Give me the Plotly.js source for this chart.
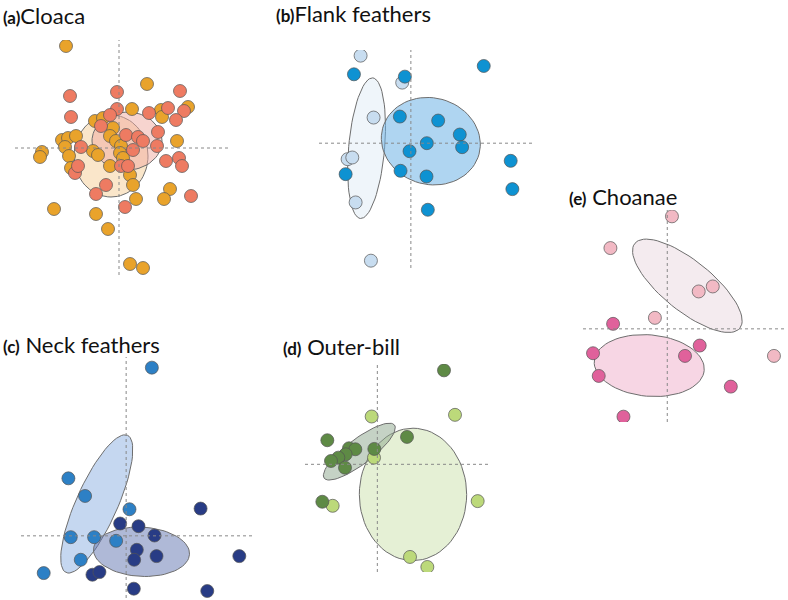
<!DOCTYPE html>
<html>
<head>
<script src="https://cdn.plot.ly/plotly-3.0.1.min.js"></script>
<style>body{margin:0}</style>
</head>
<body>
<div id="plot" style="width:788px;height:600px"></div>
<script>
// (a) Cloaca
var cloacaOrangeX = [-53,28,13,42,43,69,58,-57,-51,-43,-54,-77,-79,-50,-48,-24,-16,-6,-9,-3,2,1,4,-26,-21,-9,11,14,51,45,17,-65,-23,-11,11,24];
var cloacaOrangeY = [102,64,39,38,31,41,7,8,10,12,1,-4,-9,-8,-20,27,30,20,12,7,2,-5,-10,-3,-7,-18,-27,-37,-41,-51,-51,-61,-66,-81,-116,-120];
var cloacaRedX = [-49,-2,61,-48,-2,30,49,65,57,39,38,47,60,63,72,6,-23,-13,-44,-41,-38,7,19,24,14,2,9,-18,-9];
var cloacaRedY = [52,56,57,31,39,35,40,37,28,16,2,-13,-10,-18,-48,-59,-46,-37,-25,-18,1,13,11,7,-2,-18,-18,22,33];
// (b) Flank feathers
var flankLightX = [-151,-26,-112,-190,-176,-166,-120];
var flankLightY = [263,182,77,-48,-43,-178,-353];
var flankDarkX = [-171,-18,219,-33,82,147,48,154,-4,300,-31,47,-196,305,51];
var flankDarkY = [207,200,232,80,68,26,0,-12,-24,-53,-83,-100,-93,-138,-200];
// (c) Neck feathers
var neckLightX = [77,-173,-123,10,-166,-96,-30,-136,-247];
var neckLightY = [506,173,120,80,-4,-4,-15,-72,-112];
var neckDarkX = [223,-18,37,85,32,24,91,339,-101,-80,23,243];
var neckDarkY = [82,37,29,1,-42,-72,-61,-61,-117,-109,-159,-166];
// (d) Outer-bill
var billLightX = [-17,233,-10,301,-134,98,150];
var billLightY = [143,148,20,-110,-124,-277,-307];
var billDarkX = [200,-150,89,-85,-66,-9,-95,-117,-139,-97,-165];
var billDarkY = [281,72,82,48,45,46,30,20,10,-10,-112];
// (e) Choanae
var choLightX = [14,-170,136,94,-37,319];
var choLightY = [337,242,127,112,33,-81];
var choDarkX = [-162,-222,97,53,-205,190,-131];
var choDarkY = [15,-73,-50,-81,-141,-173,-263];

// ellipses: [cx, cy, semiA, semiB, angleDeg]
var ellipses = {
  a: [[-8,-8,37,41,0],[8,7,35,29,0]],
  b: [[-133,-15,54,212,-5],[60,6,150,130,-15]],
  c: [[-88,96,226,62,66],[46,-48,144,74,-3]],
  d: [[107,-90,161,198,0],[-54,38,132,38,37]],
  e: [[60,129,202,75,-39],[-54,-110,165,92,-5]]
};

var panels = [
  {k:'a', ax:'', px:[15,228], py:[40,275], rx:[-104,109], ry:[-127,108],
   sets:[[cloacaOrangeX,cloacaOrangeY,'#e9a32b'],[cloacaRedX,cloacaRedY,'#ee7b62']],
   fills:['rgba(246,205,150,0.5)','rgba(240,170,160,0.5)']},
  {k:'b', ax:'2', px:[319,533], py:[50,268], rx:[-276,367], ry:[-375,280],
   sets:[[flankLightX,flankLightY,'#c8ddf0'],[flankDarkX,flankDarkY,'#0e92d2']],
   fills:['rgba(228,238,247,0.6)','rgba(110,178,230,0.55)']},
  {k:'c', ax:'3', px:[21,252], py:[357,598], rx:[-315,377], ry:[-187,538],
   sets:[[neckLightX,neckLightY,'#2d80c5'],[neckDarkX,neckDarkY,'#283c85']],
   fills:['rgba(140,175,225,0.5)','rgba(95,115,175,0.5)']},
  {k:'d', ax:'4', px:[305,490], py:[364,572], rx:[-217,338], ry:[-322,300],
   sets:[[billLightX,billLightY,'#bcd97a'],[billDarkX,billDarkY,'#5e8a45']],
   fills:['rgba(212,230,185,0.6)','rgba(140,165,140,0.5)']},
  {k:'e', ax:'5', px:[583,787], py:[210,422], rx:[-252,358], ry:[-279,356],
   sets:[[choLightX,choLightY,'#f2b9c4'],[choDarkX,choDarkY,'#e0619b']],
   fills:['rgba(236,222,228,0.6)','rgba(241,180,205,0.55)']}
];

var W = 788, H = 600;
var traces = [], shapes = [];
var layout = {width:W, height:H, margin:{l:0,r:0,t:0,b:0}, showlegend:false,
  paper_bgcolor:'white', plot_bgcolor:'rgba(0,0,0,0)', font:{family:'Lato'}};

panels.forEach(function(p){
  var xa = 'x'+p.ax, ya = 'y'+p.ax;
  layout['xaxis'+p.ax] = {domain:[p.px[0]/W, p.px[1]/W], range:p.rx, visible:false, anchor:ya};
  layout['yaxis'+p.ax] = {domain:[1-p.py[1]/H, 1-p.py[0]/H], range:p.ry, visible:false, anchor:xa};
  ellipses[p.k].forEach(function(e, i){
    var ex = [], ey = [], t = e[4]*Math.PI/180;
    for (var j = 0; j <= 72; j++) {
      var a = j/72*2*Math.PI, u = e[2]*Math.cos(a), v = e[3]*Math.sin(a);
      ex.push(e[0] + u*Math.cos(t) - v*Math.sin(t));
      ey.push(e[1] + u*Math.sin(t) + v*Math.cos(t));
    }
    traces.push({x:ex, y:ey, xaxis:xa, yaxis:ya, mode:'lines', fill:'toself',
      fillcolor:p.fills[i], line:{color:'#6e6e6e', width:1}, hoverinfo:'skip'});
  });
  shapes.push({type:'line', xref:xa+' domain', yref:ya, x0:0, x1:1, y0:0, y1:0, line:{color:'#888', width:1, dash:'dot'}});
  shapes.push({type:'line', xref:xa, yref:ya+' domain', x0:0, x1:0, y0:0, y1:1, line:{color:'#888', width:1, dash:'dot'}});
  p.sets.forEach(function(s){
    traces.push({x:s[0], y:s[1], xaxis:xa, yaxis:ya, mode:'markers',
      marker:{size:13, color:s[2], line:{color:'#555', width:0.7}}});
  });
});
layout.shapes = shapes;

var titles = [['(a)','Cloaca',1,15,''],['(b)','Flank feathers',274,14,''],['(e)','Choanae',567,196,' '],
              ['(c)','Neck feathers',1,344,' '],['(d)','Outer-bill',281,346,' ']];
layout.annotations = titles.map(function(t){
  return {xref:'paper', yref:'paper', x:t[2]/W, y:1-t[3]/H, xanchor:'left', yanchor:'middle',
    showarrow:false, text:'<b><span style="font-size:17px">'+t[0]+'</span></b>'+t[4]+t[1],
    font:{size:22, color:'#111', family:'Lato'}};
});

Plotly.newPlot('plot', traces, layout, {displayModeBar:false, staticPlot:true});
</script>
</body>
</html>
